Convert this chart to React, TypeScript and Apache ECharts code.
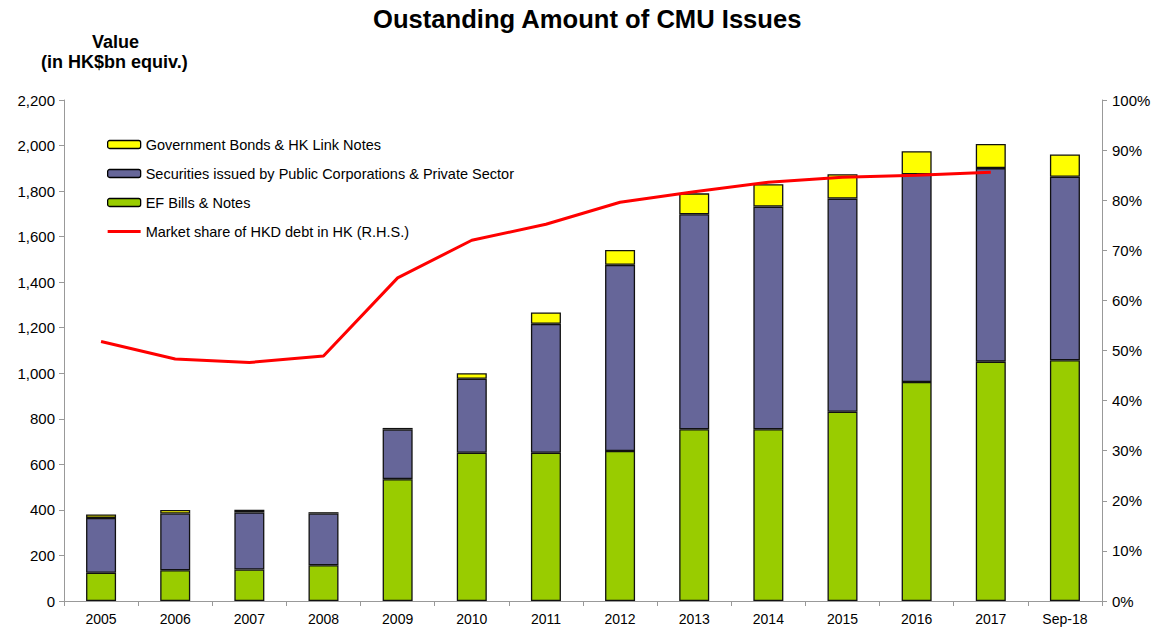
import React, { useEffect, useRef } from "react";
import * as echarts from "echarts";

const categories = ["2005", "2006", "2007", "2008", "2009", "2010", "2011", "2012", "2013", "2014", "2015", "2016", "2017", "Sep-18"];
const efBills = [124, 135, 138, 157, 535, 651, 651, 659, 754, 754, 831, 962, 1051, 1057];
const securities = [241, 249, 251, 227, 218, 325, 566, 817, 944, 978, 936, 912, 850, 806];
const govBonds = [15, 16, 12, 6, 7, 24, 50, 65, 92, 98, 107, 101, 106, 98];
const marketShare: (number | null)[] = [51.8, 48.3, 47.6, 48.9, 64.5, 72.0, 75.2, 79.6, 81.7, 83.6, 84.6, 85.0, 85.6, null];

const nameGov = "Government Bonds & HK Link Notes";
const nameSec = "Securities issued by Public Corporations & Private Sector";
const nameEF = "EF Bills & Notes";
const nameLine = "Market share of HKD debt in HK (R.H.S.)";

const FONT = 'Arial, "Liberation Sans", sans-serif';

export default function App() {
  const ref = useRef<HTMLDivElement>(null);
  useEffect(() => {
    if (!ref.current) return;
    const chart = echarts.init(ref.current, null, { renderer: "svg" });
    const barBase = { type: "bar", stack: "total", barWidth: 30, yAxisIndex: 0 };
    const barBorder = { borderColor: "#111", borderWidth: 1.3 };
    chart.setOption({
      animation: false,
      backgroundColor: "#ffffff",
      textStyle: { fontFamily: FONT },
      graphic: [
        {
          type: "text",
          left: 373,
          top: 6,
          style: { text: "Oustanding Amount of CMU Issues", font: `bold 25.6px ${FONT}`, fill: "#000" },
        },
        {
          type: "text",
          left: 92,
          top: 33,
          style: { text: "Value", font: `bold 18px ${FONT}`, fill: "#000" },
        },
        {
          type: "text",
          left: 41,
          top: 53,
          style: { text: "(in HK$bn equiv.)", font: `bold 18px ${FONT}`, fill: "#000" },
        },
      ],
      legend: {
        orient: "vertical",
        left: 102,
        top: 132,
        itemWidth: 33,
        itemHeight: 8,
        itemGap: 14,
        symbolKeepAspect: true,
        textStyle: { fontFamily: FONT, fontSize: 14.5, color: "#000" },
        data: [
          { name: nameGov, itemStyle: { borderColor: "#000", borderWidth: 1.3 } },
          { name: nameSec, itemStyle: { borderColor: "#000", borderWidth: 1.3 } },
          { name: nameEF, itemStyle: { borderColor: "#000", borderWidth: 1.3 } },
          { name: nameLine, icon: "path://M0,0 L33,0 L33,3 L0,3 Z", itemStyle: { color: "#ff0000", borderWidth: 0 } },
        ],
      },
      grid: { left: 64, right: 63, top: 100, bottom: 31 },
      xAxis: {
        type: "category",
        data: categories,
        boundaryGap: true,
        axisLine: { lineStyle: { color: "#999", width: 1 } },
        axisTick: { show: true, length: 5, lineStyle: { color: "#999" }, alignWithLabel: false },
        axisLabel: { color: "#000", fontSize: 14, margin: 11, fontFamily: FONT },
      },
      yAxis: [
        {
          type: "value",
          min: 0,
          max: 2200,
          interval: 200,
          axisLine: { show: true, lineStyle: { color: "#999" } },
          axisTick: { show: true, length: 5, lineStyle: { color: "#999" } },
          splitLine: { show: false },
          axisLabel: {
            color: "#000",
            fontSize: 15,
            margin: 9,
            fontFamily: FONT,
            formatter: (v: number) => v.toLocaleString("en-US"),
          },
        },
        {
          type: "value",
          min: 0,
          max: 100,
          interval: 10,
          position: "right",
          axisLine: { show: true, lineStyle: { color: "#999" } },
          axisTick: { show: true, length: 5, lineStyle: { color: "#999" } },
          splitLine: { show: false },
          axisLabel: { color: "#000", fontSize: 15, margin: 10, fontFamily: FONT, formatter: "{value}%" },
        },
      ],
      series: [
        { ...barBase, name: nameEF, data: efBills, itemStyle: { color: "#99cc00", ...barBorder } },
        { ...barBase, name: nameSec, data: securities, itemStyle: { color: "#666699", ...barBorder } },
        { ...barBase, name: nameGov, data: govBonds, itemStyle: { color: "#ffff00", ...barBorder } },
        {
          type: "line",
          name: nameLine,
          yAxisIndex: 1,
          data: marketShare,
          showSymbol: false,
          symbol: "none",
          lineStyle: { color: "#ff0000", width: 3 },
          itemStyle: { color: "#ff0000" },
          z: 5,
        },
      ],
    });
    return () => chart.dispose();
  }, []);
  return (
    <div
      ref={ref}
      style={{ position: "absolute", left: 0, top: 0, width: 1165, height: 632 }}
    />
  );
}
